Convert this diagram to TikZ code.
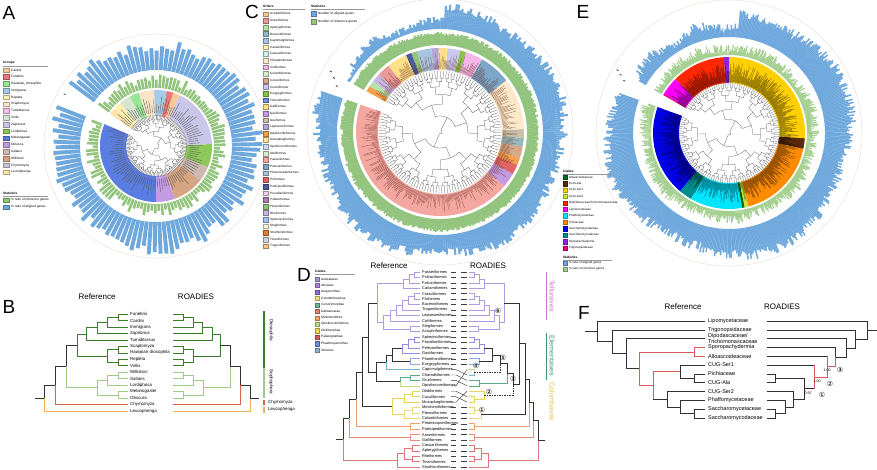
\documentclass[tikz,border=0pt]{standalone}
\usepackage{fontspec}
\setmainfont{Liberation Sans}
\newfontfamily\djv{DejaVu Sans}
\usetikzlibrary{calc}
% ---------- colours ----------
\definecolor{barblue}{RGB}{111,168,220}
\definecolor{bargreen}{RGB}{147,196,125}
\definecolor{bargreenE}{RGB}{163,207,143}
\definecolor{faint}{RGB}{238,230,222}
\definecolor{gCar}{RGB}{249,203,156}\definecolor{gFun}{RGB}{234,120,120}
\definecolor{gHaw}{RGB}{150,230,150}\definecolor{gImm}{RGB}{166,203,230}
\definecolor{gRep}{RGB}{255,242,176}\definecolor{gSca}{RGB}{251,229,200}
\definecolor{gTum}{RGB}{246,190,230}\definecolor{gVir}{RGB}{215,229,208}
\definecolor{gZap}{RGB}{201,198,234}\definecolor{gLor}{RGB}{140,200,90}
\definecolor{gMel}{RGB}{90,125,225}\definecolor{gObs}{RGB}{195,155,225}
\definecolor{gSal}{RGB}{205,185,178}\definecolor{gWil}{RGB}{215,165,130}
\definecolor{gChy}{RGB}{200,195,225}\definecolor{gLeu}{RGB}{253,228,170}
\definecolor{oc1}{RGB}{249,203,156}\definecolor{oc2}{RGB}{234,153,153}
\definecolor{oc3}{RGB}{182,227,168}\definecolor{oc4}{RGB}{150,185,190}
\definecolor{oc5}{RGB}{169,196,224}\definecolor{oc6}{RGB}{255,242,176}
\definecolor{oc7}{RGB}{208,240,240}\definecolor{oc8}{RGB}{253,233,201}
\definecolor{oc9}{RGB}{244,182,232}\definecolor{oc10}{RGB}{217,234,211}
\definecolor{oc11}{RGB}{213,169,138}\definecolor{oc12}{RGB}{201,201,240}
\definecolor{oc13}{RGB}{139,195,74}\definecolor{oc14}{RGB}{109,143,217}
\definecolor{oc15}{RGB}{255,224,138}\definecolor{oc16}{RGB}{195,155,224}
\definecolor{oc17}{RGB}{200,192,168}\definecolor{oc18}{RGB}{180,167,214}
\definecolor{oc19}{RGB}{246,160,77}\definecolor{oc20}{RGB}{255,229,153}
\definecolor{oc21}{RGB}{201,218,248}\definecolor{oc22}{RGB}{217,234,211}
\definecolor{oc23}{RGB}{244,167,160}\definecolor{oc24}{RGB}{125,167,201}
\definecolor{oc25}{RGB}{169,200,216}\definecolor{oc26}{RGB}{224,102,102}
\definecolor{oc27}{RGB}{74,90,154}\definecolor{oc28}{RGB}{243,208,232}
\definecolor{oc29}{RGB}{168,127,176}\definecolor{oc30}{RGB}{147,196,125}
\definecolor{oc31}{RGB}{200,182,226}\definecolor{oc32}{RGB}{164,194,244}
\definecolor{oc33}{RGB}{255,251,224}\definecolor{oc34}{RGB}{224,123,57}
\definecolor{oc35}{RGB}{210,210,210}\definecolor{oc36}{RGB}{246,193,140}
\definecolor{ec1}{RGB}{0,110,30}\definecolor{ec2}{RGB}{90,40,10}
\definecolor{ec3}{RGB}{255,208,0}\definecolor{ec4}{RGB}{200,230,50}
\definecolor{ec5}{RGB}{255,40,0}\definecolor{ec6}{RGB}{255,0,255}
\definecolor{ec7}{RGB}{0,229,255}\definecolor{ec8}{RGB}{255,140,0}
\definecolor{ec9}{RGB}{0,0,230}\definecolor{ec10}{RGB}{0,140,140}
\definecolor{ec11}{RGB}{140,40,220}\definecolor{ec12}{RGB}{230,0,120}
\definecolor{dc1}{RGB}{160,150,210}\definecolor{dc2}{RGB}{170,130,220}
\definecolor{dc3}{RGB}{140,110,210}\definecolor{dc4}{RGB}{240,225,130}
\definecolor{dc5}{RGB}{110,180,150}\definecolor{dc6}{RGB}{225,130,110}
\definecolor{dc7}{RGB}{240,165,100}\definecolor{dc8}{RGB}{190,220,130}
\definecolor{dc9}{RGB}{235,215,90}\definecolor{dc10}{RGB}{215,95,95}
\definecolor{dc11}{RGB}{110,140,210}\definecolor{dc12}{RGB}{140,180,215}
\definecolor{cTell}{RGB}{180,155,225}\definecolor{cAeq}{RGB}{150,140,225}
\definecolor{cPha}{RGB}{140,170,225}\definecolor{cStr}{RGB}{120,180,205}
\definecolor{cCha}{RGB}{90,170,130}\definecolor{cOpi}{RGB}{195,220,130}
\definecolor{cOti}{RGB}{232,212,90}\definecolor{cCol}{RGB}{240,215,120}
\definecolor{cMir}{RGB}{238,160,110}\definecolor{cGal}{RGB}{225,145,120}
\definecolor{cPal}{RGB}{222,120,120}
\definecolor{bDro}{RGB}{60,125,45}\definecolor{bSop}{RGB}{156,204,140}
\definecolor{bChy}{RGB}{217,96,74}\definecolor{bLeu}{RGB}{242,176,90}
\definecolor{fred}{RGB}{220,90,90}
\definecolor{tTel}{RGB}{200,120,200}\definecolor{tEle}{RGB}{60,150,110}
\definecolor{tCol}{RGB}{225,195,70}
\definecolor{tipbrown}{RGB}{100,45,35}
% ---------- helpers ----------
\newcommand{\Dc}[3]{\coordinate (#1) at (#2,{272+(#3-1)*5.42});}
\newcommand{\Bc}[3]{\coordinate (#1) at (#2,{314+(#3-1)*6.47});}
\newcommand{\Fc}[3]{\coordinate (#1) at (#2,{321+(#3-1)*8.8});}
\newcommand{\tedges}[2]{\foreach \ch/\pa in {#2}{\draw[#1] (\ch) -| (\pa);}}
\newcommand{\ringbars}[6]{%
  \foreach \i in {1,...,#3}{%
    \pgfmathsetmacro\bang{#1+(\i-0.5)/#3*#2}%
    \pgfmathsetmacro\bro{#5}%
    \draw[#6] (\bang:#4) -- (\bang:\bro);%
  }}
\newcommand{\sectors}[3]{%
  \foreach \secA/\secB/\secC in {#3}{%
    \fill[\secC] (\secA:#1) arc[start angle=\secA, end angle=\secB, radius=#1]
      -- (\secB:#2) arc[start angle=\secB, end angle=\secA, radius=#2] -- cycle;}}
\newcommand{\circtree}[7]{%
  \pgfmathtruncatemacro\ctDm{#3-1}%
  \foreach \lev in {0,...,\ctDm}{%
    \pgfmathtruncatemacro\ctn{2^\lev}%
    \pgfmathtruncatemacro\ctnm{\ctn-1}%
    \pgfmathsetmacro\ctrl{#4+(#5-#4)*(\lev/#3)*(2-\lev/#3)}%
    \pgfmathsetmacro\ctrn{#4+(#5-#4)*((\lev+1)/#3)*(2-(\lev+1)/#3)}%
    \foreach \j in {0,...,\ctnm}{%
      \pgfmathsetmacro\cta{#1+(2*\j+0.5)/(2*\ctn)*#2}%
      \pgfmathsetmacro\ctb{#1+(2*\j+1.5)/(2*\ctn)*#2}%
      \draw[#7] (\cta:\ctrn) -- (\cta:\ctrl) arc[start angle=\cta, end angle=\ctb, radius=\ctrl] -- (\ctb:\ctrn);%
    }}%
  \pgfmathtruncatemacro\ctN{2^#3-1}%
  \pgfmathtruncatemacro\ctM{2^#3}%
  \foreach \k in {0,...,\ctN}{%
    \pgfmathsetmacro\cta{#1+(\k+0.5)/\ctM*#2}%
    \draw[#7] (\cta:#5) -- (\cta:#6);}}
\begin{document}
\begin{tikzpicture}[x=1pt,y=-1pt,
  tl/.style={line width=0.55pt},
  dark/.style={tl, black!80},
  mid/.style={line width=0.45pt, black!75},
  dlbl/.style={anchor=west, inner sep=0pt, font=\fontsize{3.9}{4.5}\selectfont},
  blbl/.style={anchor=west, inner sep=0pt, font=\fontsize{4.4}{5}\selectfont},
  flbl/.style={anchor=west, inner sep=0pt, align=left, font=\fontsize{5.5}{4.4}\selectfont},
  ttl/.style={inner sep=0pt, font=\fontsize{8}{9}\selectfont},
  plet/.style={inner sep=0pt, font=\fontsize{19}{20}\selectfont},
  legt/.style={anchor=west, inner sep=0pt, font=\fontsize{3.2}{3.6}\selectfont},
  legh/.style={anchor=west, inner sep=0pt, font=\fontsize{3.2}{3.6}\selectfont\bfseries},
  circn/.style={inner sep=0pt, font=\djv\fontsize{7}{7}\selectfont},
  supp/.style={inner sep=0pt, font=\fontsize{3.6}{4}\selectfont},
  cladet/.style={inner sep=0pt, rotate=-90, font=\fontsize{7}{8}\selectfont},
  sw/.style={line width=0.2pt}]
\useasboundingbox (0,0) rectangle (877,469);
\fill[white] (0,0) rectangle (877,469);
\pgfmathsetseed{11}
% ================= Panel A =================
\node[plet] (letA) at (9,13) {A};
\begin{scope}[shift={(156,146)}, yscale=-1]
  \sectors{30}{56}{157/270/gMel, 270/290/gObs, 290/322/gWil, 322/338/gSal, 338/362/gLor, 362/425/gZap, 425/432/gCar, 432/439/gFun, 439/452/gImm, 452/468/gSca, 468/478/gHaw, 478/490/gVir, 490/498/gRep, 498/505/gLeu}
  \circtree{157}{348}{7}{3}{27}{31}{line width=0.3pt, black!60}
  \ringbars{157}{348}{110}{33}{40+11*rnd}{black!65, line width=0.35pt}
  \ringbars{157}{348}{110}{58}{63+9*rnd}{bargreen, line width=2.6pt}
  \ringbars{157}{348}{110}{76}{97+11*rnd+2*sin(3*\bang)}{barblue, line width=3.9pt}
  \draw[faint, line width=0.6pt] (0,0) circle (112);
  \draw[black!70, line width=0.8pt] (150.5:104) -- (150.5:106);
\end{scope}
\node[legh] (agh) at (3,63) {Groups};
\draw[black!40, line width=0.3pt] (3,66) -- (48,66);
\foreach \i/\cc/\ltxt in {0/gCar/Cardini, 1/gFun/Funebris, 2/gHaw/Hawaiian\_drosophila, 3/gImm/Immigrans, 4/gRep/Repleta, 5/gSca/Scaptomyza, 6/gTum/Tumiditarsus, 7/gVir/Virilis, 8/gZap/Zaprionus, 9/gLor/Lordiphosa, 10/gMel/Melanogaster, 11/gObs/Obscura, 12/gSal/Saltans, 13/gWil/Willistoni, 14/gChy/Chymomyza, 15/gLeu/Leucophenga}{
  \filldraw[sw, fill=\cc, draw=\cc!70!black] (3,{70+\i*6.8-2.3}) rectangle (9,{70+\i*6.8+2.3});
  \node[legt] at (11,{70+\i*6.8}) {\ltxt};}
\node[legh] (ash) at (3,193) {Statistics};
\draw[black!40, line width=0.3pt] (3,196) -- (48,196);
\filldraw[sw, fill=bargreen, draw=bargreen!70!black] (3,197.7) rectangle (9,202.3);
\node[legt] (as1) at (11,200) {\% ratio of reference genes};
\filldraw[sw, fill=barblue, draw=barblue!70!black] (3,204.7) rectangle (9,209.3);
\node[legt] (as2) at (11,207) {\% ratio of aligned genes};
% ================= Panel C =================
\node[plet] (letC) at (252,12) {C};
\begin{scope}[shift={(440,132)}, yscale=-1]
  \sectors{62}{84}{161/320/oc23, 320/330/oc16, 330/337/oc26, 337/342/oc19, 342/350/oc11, 350/356/oc4, 356/362/oc17, 362/398/oc8, 398/420/oc24, 420/432/oc9, 432/436/oc13, 436/445/oc12, 445/451/oc15, 451/456/oc18, 456/466/oc5, 466/470/oc30, 470/474/oc27, 474/488/oc15, 488/497/oc2, 497/503/oc31, 503/507/oc3, 507/511/oc19}
  \circtree{161}{350}{7}{2}{55}{61}{line width=0.28pt, black!65}
  \ringbars{161}{350}{360}{63}{66+14*rnd}{tipbrown, opacity=0.7, line width=0.3pt}
  \ringbars{161}{350}{360}{87}{97+3*rnd}{bargreen, line width=1.8pt}
  \ringbars{161}{350}{360}{103}{\bang>448 ? 107+7*rnd+3*sin(9*\bang) : 119+9*rnd+3*sin(5*\bang)}{barblue, line width=2.1pt}
  \draw[faint, line width=0.6pt] (0,0) circle (133);
  \foreach \aa/\rr in {151/124, 153/118, 156/112}{\draw[tipbrown, line width=0.9pt] (\aa:\rr) -- (\aa:{\rr+2});}
\end{scope}
\node[legh] (coh) at (263,6) {Orders};
\draw[black!40, line width=0.3pt] (263,9) -- (305,9);
\foreach \i/\ltxt in {1/Accipitriformes,2/Anseriformes,3/Apterygiformes,4/Bucerotiformes,5/Caprimulgiformes,6/Cariamiformes,7/Casuariiformes,8/Charadriiformes,9/Coliiformes,10/Columbiformes,11/Coraciiformes,12/Cuculiformes,13/Eurypygiformes,14/Falconiformes,15/Galliformes,16/Gaviiformes,17/Gruiformes,18/Leptosomiformes,19/Mesitornithiformes,20/Musophagiformes,21/Opisthocomiformes,22/Otidiformes,23/Passeriformes,24/Pelecaniformes,25/Phoenicopteriformes,26/Piciformes,27/Podicipediformes,28/Procellariiformes,29/Psittaciformes,30/Pterocliformes,31/Rheiformes,32/Sphenisciformes,33/Strigiformes,34/Struthioniformes,35/Tinamiformes,36/Trogoniformes}{
  \filldraw[sw, fill=oc\i, draw=oc\i!65!black] (263,{14+(\i-1)*6.63-2.4}) rectangle (268.5,{14+(\i-1)*6.63+2.4});
  \node[legt, font=\fontsize{3.1}{3.5}\selectfont] at (270,{14+(\i-1)*6.63}) {\ltxt};}
\node[legh] (csh) at (311,6) {Statistics};
\draw[black!40, line width=0.3pt] (311,9) -- (365,9);
\filldraw[sw, fill=barblue, draw=barblue!70!black] (311,11.5) rectangle (316.5,16.5);
\node[legt] (cs1) at (318,14) {Number of aligned genes};
\filldraw[sw, fill=bargreen, draw=bargreen!70!black] (311,19.5) rectangle (316.5,24.5);
\node[legt] (cs2) at (318,22) {Number of reference genes};
% ================= Panel E =================
\node[plet] (letE) at (583,12) {E};
\begin{scope}[shift={(729,133)}, yscale=-1]
  \sectors{50}{76}{160/230/ec9, 230/240/ec10, 240/280/ec7, 280/282/ec1, 282/285/ec4, 285/348/ec8, 348/356/ec2, 356/450/ec3, 450/454/ec11, 454/495/ec5, 495/509/ec6, 509/510/ec12}
  \circtree{160}{350}{7}{2}{46}{51}{line width=0.25pt, black!65}
  \ringbars{160}{350}{500}{51}{56+15*rnd}{black, opacity=0.55, line width=0.35pt}
  \ringbars{160}{350}{500}{78}{81+9*rnd+1.5*sin(7*\bang)}{bargreenE, line width=1.1pt}
  \ringbars{160}{350}{500}{96}{\bang>445 ? 103+9*rnd+3*sin(11*\bang) : 116+10*rnd+4*sin(4*\bang)}{barblue, line width=1.5pt}
  \draw[faint, line width=0.6pt] (0,0) circle (133);
  \foreach \aa/\rr in {150.6/127, 151.8/122, 153.5/116}{\draw[black!80, line width=0.8pt] (\aa:\rr) -- (\aa:{\rr+2});}
\end{scope}
\node[legh] (ech) at (563,171) {Clades};
\draw[black!40, line width=0.3pt] (563,174) -- (612,174);
\foreach \i/\ltxt in {1/Alloascoideaceae,2/CUG-Ala,3/CUG-Ser1,4/CUG-Ser2,5/{Dipodascaceae/Trichomonascaceae},6/Lipomycetaceae,7/Phaffomycetaceae,8/Pichiaceae,9/Saccharomycetaceae,10/Saccharomycodaceae,11/Sporopachydermia,12/Trigonopsidaceae}{
  \filldraw[sw, fill=ec\i, draw=ec\i!70!black] (563,{177+(\i-1)*6.45-2.2}) rectangle (567.5,{177+(\i-1)*6.45+2.2});
  \node[legt, font=\fontsize{3}{3.4}\selectfont] at (569,{177+(\i-1)*6.45}) {\ltxt};}
\node[legh] (esh) at (563,257) {Statistics};
\draw[black!40, line width=0.3pt] (563,260) -- (612,260);
\filldraw[sw, fill=barblue, draw=barblue!70!black] (563,260.8) rectangle (567.5,265.2);
\node[legt, font=\fontsize{3}{3.4}\selectfont] (es1) at (569,263) {\% ratio of aligned genes};
\filldraw[sw, fill=bargreenE, draw=bargreenE!70!black] (563,266.8) rectangle (567.5,271.2);
\node[legt, font=\fontsize{3}{3.4}\selectfont] (es2) at (569,269) {\% ratio of reference genes};
% ================= Panel B =================
\node[plet] (letB) at (9,307) {B};
\node[ttl] (bref) at (97,297) {Reference};
\node[ttl] (broa) at (196,297) {ROADIES};
\foreach \i/\ltxt in {1/Funebris,2/Cardini,3/Immigrans,4/Zaprionus,5/Tumiditarsus,6/Scaptomyza,7/Hawaiian drosophila,8/Repleta,9/Virilis,10/Willistoni,11/Saltans,12/Lordiphosa,13/Melanogaster,14/Obscura,15/Chymomyza,16/Leucophenga}{
  \node[blbl] (blab\i) at (130,{314+(\i-1)*6.47}) {\ltxt};
  \Bc{BL\i}{128}{\i} \Bc{BR\i}{173}{\i}}
\Bc{Bl12}{118}{1.5}\Bc{Bl123}{107}{2.25}\Bc{Bl1234}{97}{3.125}\Bc{Bl15}{86}{4.0625}
\Bc{Bl67}{118}{6.5}\Bc{Bl89}{118}{8.5}\Bc{Bl69}{107}{7.5}\Bc{BlDro}{77}{5.78125}
\Bc{Bl1011}{118}{10.5}\Bc{Bl1012}{107}{11.25}\Bc{Bl1314}{118}{13.5}\Bc{BlSop}{97}{12.375}
\Bc{BlDS}{66}{9.078}\Bc{BlDSC}{55}{12.039}\Bc{BlR}{44}{14.02}\Bc{BlRS}{35}{14.02}
\Bc{Br12}{183}{1.5}\Bc{Br123}{193}{2.25}\Bc{Br1234}{202}{3.125}\Bc{Br15}{212}{4.0625}
\Bc{Br67}{183}{6.5}\Bc{Br89}{183}{8.5}\Bc{Br69}{193}{7.5}\Bc{BrDro}{220}{5.78125}
\Bc{Br1011}{183}{10.5}\Bc{Br1012}{193}{11.25}\Bc{Br1314}{183}{13.5}\Bc{BrSop}{203}{12.375}
\Bc{BrDS}{230}{9.078}\Bc{BrDSC}{240}{12.039}\Bc{BrR}{250}{14.02}\Bc{BrRS}{259}{14.02}
\tedges{tl,bDro}{BL1/Bl12, BL2/Bl12, Bl12/Bl123, BL3/Bl123, Bl123/Bl1234, BL4/Bl1234, Bl1234/Bl15, BL5/Bl15, BL6/Bl67, BL7/Bl67, BL8/Bl89, BL9/Bl89, Bl67/Bl69, Bl89/Bl69, Bl15/BlDro, Bl69/BlDro}
\tedges{tl,bSop}{BL10/Bl1011, BL11/Bl1011, Bl1011/Bl1012, BL12/Bl1012, BL13/Bl1314, BL14/Bl1314, Bl1012/BlSop, Bl1314/BlSop, BlSop/BlDS}
\tedges{dark}{BlDro/BlDS, BlDS/BlDSC, BlDSC/BlR}
\tedges{tl,bChy}{BL15/BlDSC}
\tedges{tl,bLeu}{BL16/BlR}
\draw[dark] (BlR) -- (BlRS);
\tedges{tl,bDro}{BR1/Br12, BR2/Br12, Br12/Br123, BR3/Br123, Br123/Br1234, BR4/Br1234, Br1234/Br15, BR5/Br15, BR6/Br67, BR7/Br67, BR8/Br89, BR9/Br89, Br67/Br69, Br89/Br69, Br15/BrDro, Br69/BrDro}
\tedges{tl,bSop}{BR10/Br1011, BR11/Br1011, Br1011/Br1012, BR12/Br1012, BR13/Br1314, BR14/Br1314, Br1012/BrSop, Br1314/BrSop, BrSop/BrDS}
\tedges{dark}{BrDro/BrDS, BrDS/BrDSC, BrDSC/BrR}
\tedges{tl,bChy}{BR15/BrDSC}
\tedges{tl,bLeu}{BR16/BrR}
\draw[dark] (BrR) -- (BrRS);
\coordinate (bb1) at (264,311); \coordinate (bb2) at (264,368); \coordinate (bb3) at (264,398);
\coordinate (bb4) at (264,400); \coordinate (bb5) at (264,405); \coordinate (bb6) at (264,407); \coordinate (bb7) at (264,413);
\draw[bDro, line width=1.6pt] (bb1) -- (bb2);
\draw[bSop, line width=1.6pt] (bb2) -- (bb3);
\draw[bChy, line width=1.6pt] (bb4) -- (bb5);
\draw[bLeu, line width=1.6pt] (bb6) -- (bb7);
\node[cladet, font=\fontsize{4.6}{5}\selectfont] (bdro) at (271,330) {Drosophila};
\node[cladet, font=\fontsize{4.6}{5}\selectfont] (bsop) at (271,382) {Sophophora};
\node[blbl] (bchy) at (268,402.5) {Chymomyza};
\node[blbl] (bleu) at (268,409.5) {Leucophenga};
% ================= Panel D =================
\node[plet] (letD) at (304,275) {D};
\node[ttl] (dref) at (389,266) {Reference};
\node[ttl] (droa) at (488,266) {ROADIES};
\node[legh] (dch) at (315,271) {Clades};
\draw[black!40, line width=0.3pt] (315,274) -- (355,274);
\foreach \i/\ltxt in {1/Australaves,2/Afroaves,3/Aequornithes,4/Columbimorphae,5/Cursorimorphae,6/Galloanserae,7/Mirandornithes,8/Opisthocomiformes,9/Otidimorphae,10/Palaeognathae,11/Phaethoquornithes,12/Strisores}{
  \filldraw[sw, fill=dc\i, draw=dc\i!70!black] (315,{279+(\i-1)*6.45-2.1}) rectangle (319.5,{279+(\i-1)*6.45+2.1});
  \node[legt] at (321,{279+(\i-1)*6.45}) {\ltxt};}
\foreach \i/\ltxt in {1/Passeriformes,2/Psittaciformes,3/Falconiformes,4/Cariamiformes,5/Coraciiformes,6/Piciformes,7/Bucerotiformes,8/Trogoniformes,9/Leptosomiformes,10/Coliiformes,11/Strigiformes,12/Accipitriformes,13/Sphenisciformes,14/Procellariiformes,15/Pelecaniformes,16/Gaviiformes,17/Phaethontiformes,18/Eurypygiformes,19/Caprimulgiformes,20/Charadriiformes,21/Gruiformes,22/Opisthocomiformes,23/Otidiformes,24/Cuculiformes,25/Musophagiformes,26/Mesitornithiformes,27/Pterocliformes,28/Columbiformes,29/Phoenicopteriformes,30/Podicipediformes,31/Anseriformes,32/Galliformes,33/Casuariiformes,34/Apterygiformes,35/Rheiformes,36/Tinamiformes,37/Struthioniformes}{
  \node[dlbl] (dlab\i) at (422,{272+(\i-1)*5.42}) {\ltxt};
  \Dc{DL\i}{420}{\i}}
\foreach \i/\sl in {1/1,2/2,3/3,4/4,5/5,6/6,7/7,8/8,9/9,10/10,11/11,12/12,13/13,14/14,15/15,16/16,17/17,18/18,19/20,20/21,21/22,22/19,23/24,24/25,25/23,26/26,27/27,28/28,29/29,30/30,31/31,32/32,33/33,34/34,35/35,36/36,37/37}{
  \Dc{DR\i}{469}{\sl}
  \Dc{mA\i}{451}{\i}\Dc{mB\i}{456}{\i}\Dc{mC\i}{461}{\sl}\Dc{mD\i}{467}{\sl}}
\foreach \i in {1,...,18,26,27,...,37}{\draw[mid] (mA\i) -- (mB\i) (mC\i) -- (mD\i);}
\foreach \i in {19,...,25}{\draw[mid] (mA\i) -- (mB\i) -- (mD\i);}
% left tree
\Dc{La1}{414}{1.5}\Dc{La2}{409}{2.25}\Dc{La3}{403}{3.125}
\Dc{Lb1}{414}{5.5}\Dc{Lb2}{408}{6.25}\Dc{Lb3}{402}{7.125}\Dc{Lb4}{396}{8.0625}\Dc{Lb5}{390}{9.03125}\Dc{Lb6}{410}{11.5}\Dc{Lb7}{383}{10.265625}\Dc{LT}{377}{6.6953}
\Dc{Lc1}{414}{13.5}\Dc{Lc2}{408}{14.25}\Dc{Lc3}{402}{15.125}\Dc{Lc4}{410}{17.5}\Dc{Lc5}{392}{16.3125}\Dc{Lc6}{386}{17.65625}\Dc{Lc7}{410}{20.5}\Dc{Lc8}{400}{21.25}\Dc{LE}{376}{19.453}
\Dc{LTE}{368}{13.074}
\Dc{Ld1}{412}{23.5}\Dc{Ld2}{404}{24.25}\Dc{Ld3}{412}{26.5}\Dc{Ld4}{404}{27.25}\Dc{LC}{392}{25.75}
\Dc{LN1}{362}{19.412}\Dc{Lm1}{410}{29.5}\Dc{LN2}{356}{24.456}\Dc{Lg1}{410}{31.5}\Dc{LNG}{349}{27.978}
\Dc{Lp1}{412}{33.5}\Dc{Lp2}{412}{35.5}\Dc{Lp3}{404}{34.5}\Dc{Lp4}{397}{35.75}
\Dc{LR}{343}{31.864}\Dc{LRS}{336}{31.864}
\tedges{tl,cTell}{DL1/La1, DL2/La1, La1/La2, DL3/La2, La2/La3, DL4/La3, DL5/Lb1, DL6/Lb1, Lb1/Lb2, DL7/Lb2, Lb2/Lb3, DL8/Lb3, Lb3/Lb4, DL9/Lb4, Lb4/Lb5, DL10/Lb5, DL11/Lb6, DL12/Lb6, Lb5/Lb7, Lb6/Lb7, La3/LT, Lb7/LT}
\tedges{tl,cAeq}{DL13/Lc1, DL14/Lc1, Lc1/Lc2, DL15/Lc2, Lc2/Lc3, DL16/Lc3}
\tedges{tl,cPha}{DL17/Lc4, DL18/Lc4}
\tedges{tl,cStr}{DL19/Lc6}
\tedges{tl,cCha}{DL20/Lc7, DL21/Lc7, Lc7/Lc8}
\tedges{tl,cOpi}{DL22/Lc8}
\tedges{tl,cOti}{DL23/Ld1, DL24/Ld1, Ld1/Ld2, DL25/Ld2, Ld2/LC, Ld4/LC}
\tedges{tl,cCol}{DL26/Ld3, DL27/Ld3, Ld3/Ld4, DL28/Ld4}
\tedges{tl,cMir}{DL29/Lm1, DL30/Lm1, Lm1/LN2}
\tedges{tl,cGal}{DL31/Lg1, DL32/Lg1, Lg1/LNG}
\tedges{tl,cPal}{DL33/Lp1, DL34/Lp1, DL35/Lp2, DL36/Lp2, Lp1/Lp3, Lp2/Lp3, Lp3/Lp4, DL37/Lp4, Lp4/LR}
\tedges{dark}{Lc3/Lc5, Lc4/Lc5, Lc5/Lc6, Lc6/LE, Lc8/LE, LT/LTE, LE/LTE, LTE/LN1, LC/LN1, LN1/LN2, LN2/LNG, LNG/LR}
\draw[dark] (LR) -- (LRS);
% right tree
\Dc{Ra1}{474}{1.5}\Dc{Ra2}{479}{2.25}\Dc{Ra3}{484}{3.125}
\Dc{Rb1}{474}{5.5}\Dc{Rb2}{479}{6.25}\Dc{Rb3}{484}{7.125}\Dc{Rb4}{489}{8.0625}\Dc{Rb5}{494}{9.03125}\Dc{Rb6}{478}{11.5}\Dc{Rb7}{499}{10.265625}\Dc{RT}{504}{6.6953}
\Dc{Rc1}{474}{13.5}\Dc{Rc2}{479}{14.25}\Dc{Rc3}{484}{15.125}\Dc{Rc4}{479}{17.5}\Dc{Rc5}{492}{16.3125}
\Dc{Rq4}{474}{19.5}\Dc{Rq5}{500}{17.906}\Dc{Rq7}{479}{21.5}\Dc{Rq3}{507}{19.703}\Dc{Rq2a}{474}{24.5}\Dc{Rq2}{484}{23.75}\Dc{RqE}{513}{21.727}
\Dc{Rd3}{474}{26.5}\Dc{Rd4}{481}{27.25}
\Dc{RTE}{519}{14.211}\Dc{RN1}{525}{20.73}\Dc{Rm1}{474}{29.5}\Dc{RN2}{529}{25.115}\Dc{Rg1}{474}{31.5}\Dc{RNG}{533}{28.31}
\Dc{Rp1}{474}{33.5}\Dc{Rp2}{474}{35.5}\Dc{Rp3}{481}{34.5}\Dc{Rp4}{488}{35.75}\Dc{RR}{538}{32.03}\Dc{RRS}{545}{32.03}
\tedges{tl,cTell}{DR1/Ra1, DR2/Ra1, Ra1/Ra2, DR3/Ra2, Ra2/Ra3, DR4/Ra3, DR5/Rb1, DR6/Rb1, Rb1/Rb2, DR7/Rb2, Rb2/Rb3, DR8/Rb3, Rb3/Rb4, DR9/Rb4, Rb4/Rb5, DR10/Rb5, DR11/Rb6, DR12/Rb6, Rb5/Rb7, Rb6/Rb7, Ra3/RT, Rb7/RT}
\tedges{tl,cAeq}{DR13/Rc1, DR14/Rc1, Rc1/Rc2, DR15/Rc2, Rc2/Rc3, DR16/Rc3}
\tedges{tl,cPha}{DR17/Rc4, DR18/Rc4}
\tedges{tl,cStr}{DR19/Rq4}
\tedges{tl,cOpi}{DR22/Rq4}
\tedges{tl,cCha}{DR20/Rq7, DR21/Rq7, Rq7/Rq3}
\tedges{tl,cOti}{DR23/Rq2a, DR24/Rq2a, Rq2a/Rq2, DR25/Rq2}
\tedges{tl,cCol}{DR26/Rd3, DR27/Rd3, Rd3/Rd4, DR28/Rd4}
\tedges{tl,cMir}{DR29/Rm1, DR30/Rm1, Rm1/RN2}
\tedges{tl,cGal}{DR31/Rg1, DR32/Rg1, Rg1/RNG}
\tedges{tl,cPal}{DR33/Rp1, DR34/Rp1, DR35/Rp2, DR36/Rp2, Rp1/Rp3, Rp2/Rp3, Rp3/Rp4, DR37/Rp4, Rp4/RR}
\tedges{dark}{Rc3/Rc5, Rc4/Rc5, Rc5/Rq5, Rq5/Rq3, Rq3/RqE, RT/RTE, RqE/RTE, RTE/RN1, Rd4/RN1, RN1/RN2, RN2/RNG, RNG/RR}
\tedges{dark, dashed, dash pattern=on 1.5pt off 1pt}{Rq4/Rq5, Rq2/RqE}
\draw[dark] (RR) -- (RRS);
\node[circn] (n6) at (498,311) {⑥};
\node[circn] (n5) at (503,358) {⑤};
\node[circn] (n4) at (476,366) {④};
\node[circn] (n3) at (513,379) {③};
\node[circn] (n2) at (489,392) {②};
\node[circn] (n1) at (482,410) {①};
\coordinate (dt1) at (546,272); \coordinate (dt2) at (546,320);
\coordinate (de1) at (546,333); \coordinate (de2) at (546,380);
\draw[tTel, line width=0.8pt] (dt1) -- (dt2);
\draw[tEle, line width=0.8pt] (de1) -- (de2);
\node[cladet, text=tTel] (tell) at (552,296) {Telluraves};
\node[cladet, text=tEle] (elem) at (552,356) {Elementaves};
\node[cladet, text=tCol] (colb) at (552,402) {Columbaves};
% ================= Panel F =================
\node[plet] (letF) at (584,313) {F};
\node[ttl] (fref) at (683,307) {Reference};
\node[ttl] (froa) at (782,307) {ROADIES};
\foreach \i/\ltxt in {1/Lipomycetaceae,2/Trigonopsidaceae,3/{Dipodascaceae/\\Trichomonascaceae},4/Sporopachydermia,5/Alloascoideaceae,6/CUG-Ser1,7/Pichiaceae,8/CUG-Ala,9/CUG-Ser2,10/Phaffomycetaceae,11/Saccharomycetaceae,12/Saccharomycodaceae}{
  \node[flbl] (flab\i) at (708,{321+(\i-1)*8.8}) {\ltxt};
  \Fc{FL\i}{705}{\i} \Fc{FR\i}{767}{\i}}
\Fc{Fl45}{694}{4.5}\Fc{Fl78}{694}{7.5}\Fc{Fl678}{680}{6.75}\Fc{Fl1112}{694}{11.5}\Fc{Fl1012}{680}{10.75}
\Fc{Fl912}{667}{9.875}\Fc{Fl612}{653}{8.3125}\Fc{Fl412}{639}{6.40625}\Fc{Fl312}{626}{4.703}\Fc{Fl212}{612}{3.352}
\Fc{FlR}{597}{2.176}\Fc{FlRS}{585}{2.176}
\tedges{tl,fred}{FL4/Fl45, FL5/Fl45, Fl45/Fl412, Fl678/Fl612, Fl612/Fl412}
\tedges{dark}{FL7/Fl78, FL8/Fl78, Fl78/Fl678, FL6/Fl678, FL11/Fl1112, FL12/Fl1112, Fl1112/Fl1012, FL10/Fl1012, Fl1012/Fl912, FL9/Fl912, Fl412/Fl312, FL3/Fl312, Fl312/Fl212, FL2/Fl212, Fl212/FlR, FL1/FlR}
\draw[dark] (Fl912) -- (Fl912 -| Fl612);
\draw[tl,fred] (Fl912 -| Fl612) -- (Fl612);
\draw[dark] (FlR) -- (FlRS);
\Fc{Fr78}{775}{7.5}\Fc{Fr1112}{775}{11.5}\Fc{Fr1012}{785}{10.75}\Fc{Fr912}{793}{9.875}\Fc{Fr712}{804}{8.6875}
\Fc{Fr612}{814}{7.34375}\Fc{Fr512}{827}{6.171875}\Fc{Fr412}{835}{5.0859}\Fc{Fr312}{846}{4.043}\Fc{Fr212}{855}{3.0215}
\Fc{Fr112}{867}{2.0107}\Fc{FrRS}{877}{2.0107}
\tedges{dark}{FR7/Fr78, FR8/Fr78, FR11/Fr1112, FR12/Fr1112, Fr1112/Fr1012, FR10/Fr1012, Fr1012/Fr912, FR9/Fr912, Fr78/Fr712, Fr912/Fr712, FR4/Fr412, Fr412/Fr312, FR3/Fr312, Fr312/Fr212, FR2/Fr212, Fr212/Fr112, FR1/Fr112}
\tedges{tl,fred}{Fr612/Fr512, Fr512/Fr412}
\draw[dark] (FR6) -- (FR6 -| Fr612);
\draw[tl,fred] (FR6 -| Fr612) -- (Fr612);
\draw[dark] (Fr712) -- (Fr712 -| Fr612);
\draw[tl,fred] (Fr712 -| Fr612) -- (Fr612);
\draw[dark] (FR5) -- (FR5 -| Fr512);
\draw[tl,fred] (FR5 -| Fr512) -- (Fr512);
\draw[dark] (Fr112) -- (FrRS);
\node[supp] (s3) at (827,370) {1.00};
\node[circn] (c3) at (840,370) {③};
\node[supp] (s2) at (817,381) {1.00};
\node[circn] (c2) at (830,384) {②};
\node[supp] (s1) at (808,393) {0.97};
\node[circn] (c1) at (822,395) {①};
\end{tikzpicture}
\end{document}
